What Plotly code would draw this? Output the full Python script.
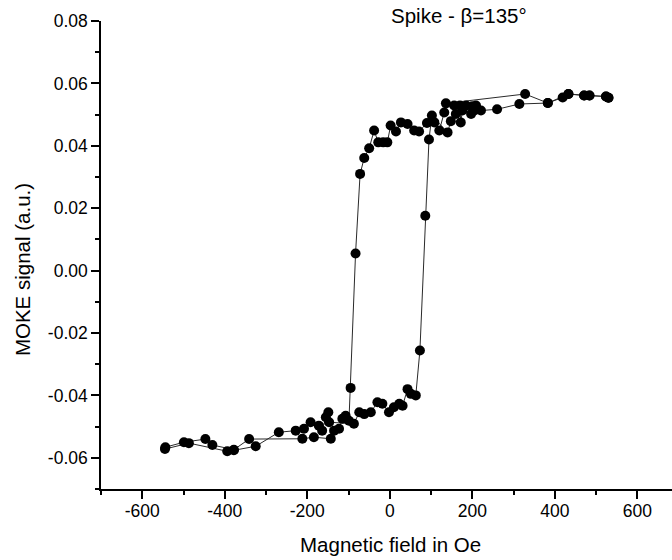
import plotly.graph_objects as go

# Descending branch (field decreasing from +max)
field_down = [530, 524, 484, 471, 433, 383, 328, 136, 132, 120, 108, 90, 71, 59, 43, 27, 15, 2,
              -6, -16, -28, -38, -50, -62, -72, -83, -95, -99, -107, -115, -123, -135, -143,
              -184, -212, -341, -378, -430, -447, -499, -544]
moke_down = [0.0554, 0.0558, 0.0561, 0.0561, 0.0566, 0.0537, 0.0566, 0.0536, 0.0507, 0.0449,
             0.0475, 0.0473, 0.0446, 0.0449, 0.0470, 0.0475, 0.0446, 0.0465,
             0.0411, 0.0411, 0.0411, 0.0449, 0.0392, 0.0361, 0.0310, 0.0055, -0.0376,
             -0.0481, -0.0465, -0.0475, -0.0507, -0.0513, -0.0539,
             -0.0534, -0.0539, -0.0540, -0.0574, -0.0559, -0.0540, -0.0550, -0.0566]

# Ascending branch (field increasing from -max)
field_up = [-545, -487, -394, -378, -325, -269, -228, -208, -192, -172, -164, -155, -149, -147,
            -87, -74, -62, -46, -30, -18, -2, 10, 23, 31, 43, 51, 63, 73, 86, 95, 102,
            140, 148, 160, 156, 170, 172, 176, 185, 197, 200, 205, 209, 221, 260, 314,
            383, 419, 433, 471, 484, 524, 530]
moke_up = [-0.0572, -0.0553, -0.0579, -0.0576, -0.0563, -0.0518, -0.0513, -0.0507, -0.0486,
           -0.0497, -0.0513, -0.0470, -0.0454, -0.0486,
           -0.0491, -0.0454, -0.0460, -0.0454, -0.0422, -0.0427, -0.0454, -0.0438, -0.0427,
           -0.0433, -0.0380, -0.0395, -0.0400, -0.0256, 0.0176, 0.0420, 0.0497,
           0.0443, 0.0479, 0.0502, 0.0529, 0.0529, 0.0475, 0.0513, 0.0529, 0.0502, 0.0527,
           0.0513, 0.0529, 0.0513, 0.0517, 0.0534,
           0.0537, 0.0555, 0.0566, 0.0561, 0.0561, 0.0558, 0.0554]

x_ticks = [-600, -400, -200, 0, 200, 400, 600]
y_ticks = [-0.06, -0.04, -0.02, 0.00, 0.02, 0.04, 0.06, 0.08]

FONT = "Liberation Sans, Arial, sans-serif"

fig = go.Figure()
fig.add_trace(go.Scatter(
    x=field_down + field_up,
    y=moke_down + moke_up,
    mode="lines+markers",
    line=dict(color="#2a2a2a", width=1),
    marker=dict(color="black", size=10),
    showlegend=False,
))

fig.update_layout(
    width=672, height=560,
    margin=dict(l=101, r=0, t=20.5, b=70.7, autoexpand=False),
    paper_bgcolor="white", plot_bgcolor="white",
    font=dict(family=FONT, color="black"),
    xaxis=dict(
        range=[-700, 684], showgrid=False, zeroline=False, automargin=False,
        showline=True, linecolor="black", linewidth=1.5,
        ticks="outside", ticklen=8, tickwidth=1.5, tickcolor="black",
        tickvals=x_ticks, ticktext=[str(v) for v in x_ticks],
        tickfont=dict(size=17.5, family=FONT), ticklabelstandoff=-3,
        minor=dict(ticks="outside", ticklen=4, tickwidth=1.5, tickcolor="black", dtick=100, tick0=0, showgrid=False),
    ),
    yaxis=dict(
        range=[-0.07, 0.08], showgrid=False, zeroline=False, automargin=False,
        showline=True, linecolor="black", linewidth=1.5,
        ticks="outside", ticklen=8, tickwidth=1.5, tickcolor="black",
        tickvals=y_ticks, ticktext=[f"{v:.2f}" for v in y_ticks],
        tickfont=dict(size=17.5, family=FONT),
        minor=dict(ticks="outside", ticklen=4, tickwidth=1.5, tickcolor="black", dtick=0.01, tick0=0, showgrid=False),
    ),
    annotations=[
        dict(text="Magnetic field in Oe", x=(390 - 101) / 571, xref="paper", y=(489.3 - 545) / 468.8, yref="paper",
             xanchor="center", yanchor="middle", showarrow=False, font=dict(size=20.5, family=FONT)),
        dict(text="MOKE signal (a.u.)", x=(22 - 101) / 571, xref="paper", y=(489.3 - 270) / 468.8, yref="paper",
             xanchor="center", yanchor="middle", textangle=-90, showarrow=False, font=dict(size=20.5, family=FONT)),
        dict(text="Spike - β=135°", x=(459 - 101) / 571, xref="paper", y=(489.3 - 15) / 468.8, yref="paper",
             xanchor="center", yanchor="middle", showarrow=False, font=dict(size=20.5, family=FONT)),
    ],
)

# remove the browser's default 8px body margin so the figure fills the window exactly
fig.write_html("out.html", config={"displayModeBar": False},
               post_script="document.body.style.margin='0';")
